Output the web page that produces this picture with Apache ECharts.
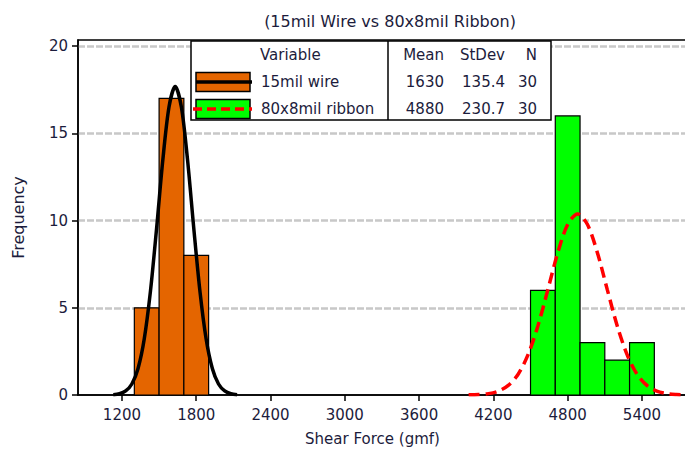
<!DOCTYPE html>
<html>
<head>
<meta charset="utf-8">
<script src="https://cdn.jsdelivr.net/npm/echarts@6/dist/echarts.min.js"></script>
<style>
  html, body { margin: 0; padding: 0; background: #fff; }
  #chartmain { width: 685px; height: 455px; }
</style>
</head>
<body>
<div id="chartmain"></div>
<script>
// histogram bins (centres) and counts
var binWidth = 200;
var wireBins = [1400, 1600, 1800];
var wireCounts = [5, 17, 8];
var ribbonBins = [4600, 4800, 5000, 5200, 5400];
var ribbonCounts = [6, 16, 3, 2, 3];

// fitted normal curves
var wireFitX = [1130, 1180, 1230, 1280, 1330, 1380, 1430, 1480, 1530, 1580, 1630,
                1680, 1730, 1780, 1830, 1880, 1930, 1980, 2030, 2080, 2130];
var wireFitY = [0.02, 0.07, 0.23, 0.63, 1.52, 3.21, 5.94, 9.57, 13.46, 16.51, 17.68,
                16.51, 13.46, 9.57, 5.94, 3.21, 1.52, 0.63, 0.23, 0.07, 0.02];
var ribbonFitX = [4000, 4080, 4160, 4240, 4320, 4400, 4480, 4560, 4640, 4720, 4800, 4880,
                  4960, 5040, 5120, 5200, 5280, 5360, 5440, 5520, 5600, 5680, 5760];
var ribbonFitY = [0.01, 0.03, 0.08, 0.22, 0.55, 1.19, 2.31, 3.97, 6.04, 8.16, 9.77, 10.38,
                  9.77, 8.16, 6.04, 3.97, 2.31, 1.19, 0.55, 0.22, 0.08, 0.03, 0.01];

var xTicks = [1200, 1800, 2400, 3000, 3600, 4200, 4800, 5400];
var variables = ['15mil wire', '80x8mil ribbon'];
var means = ['1630', '4880'];
var stdevs = ['135.4', '230.7'];
var counts = ['30', '30'];

var FONT = 'DejaVu Sans';
var TXT = '#1c1c3c';
var ORANGE = '#e46500';
var GREEN = '#00ff00';

function pairs(xs, ys) {
    var out = [];
    for (var i = 0; i < xs.length; i++) out.push([xs[i], ys[i]]);
    return out;
}

function histItem(fill) {
    return function(params, api) {
        var x0 = api.value(0) - binWidth / 2;
        var p0 = api.coord([x0, api.value(1)]);
        var p1 = api.coord([x0 + binWidth, 0]);
        return {
            type: 'rect',
            shape: { x: p0[0], y: p0[1], width: p1[0] - p0[0], height: p1[1] - p0[1] },
            style: { fill: fill, stroke: '#000', lineWidth: 1.2 }
        };
    };
}

// legend table drawn as graphics
function legendTable() {
    var g = [];
    var L = 191, R = 551, T = 41, B = 120, D = 388;
    var rows = [82, 109];
    g.push({ type: 'rect', shape: { x: L, y: T, width: R - L, height: B - T },
             style: { fill: '#fff', stroke: '#000', lineWidth: 1.5 }, z: 100 });
    g.push({ type: 'line', shape: { x1: D, y1: T, x2: D, y2: B },
             style: { stroke: '#000', lineWidth: 1.5 }, z: 101 });
    var tx = function(s, x, y, align) {
        return { type: 'text', x: x, y: y, z: 102,
                 style: { text: s, font: '15px "' + FONT + '"', fill: TXT,
                          align: align || 'left', verticalAlign: 'middle' } };
    };
    g.push(tx('Variable', 260, 55));
    g.push(tx('Mean', 444, 55, 'right'));
    g.push(tx('StDev', 505, 55, 'right'));
    g.push(tx('N', 537, 55, 'right'));
    for (var i = 0; i < 2; i++) {
        var cy = rows[i];
        g.push({ type: 'rect', shape: { x: 196, y: cy - 9.5, width: 54, height: 19 }, z: 102,
                 style: { fill: i === 0 ? ORANGE : GREEN, stroke: '#000', lineWidth: 1.5 } });
        g.push({ type: 'line', z: 103,
                 shape: { x1: i === 0 ? 196 : 193, y1: cy, x2: 252, y2: cy },
                 style: { stroke: i === 0 ? '#000' : '#ff0000', lineWidth: 3.5,
                          lineDash: i === 0 ? null : [9, 5] } });
        g.push(tx(variables[i], 261, cy));
        g.push(tx(means[i], 444, cy, 'right'));
        g.push(tx(stdevs[i], 505, cy, 'right'));
        g.push(tx(counts[i], 537, cy, 'right'));
    }
    return g;
}

var option = {
    animation: false,
    backgroundColor: '#fff',
    title: {
        text: '(15mil Wire vs 80x8mil Ribbon)',
        left: 385, top: 8, textAlign: 'center',
        textStyle: { fontFamily: FONT, fontSize: 16, fontWeight: 'normal', color: TXT }
    },
    grid: {
        left: 78, right: -4, top: 40, bottom: 60,
        outerBoundsMode: 'none',
        show: true, borderColor: '#000', borderWidth: 1.5
    },
    xAxis: {
        type: 'value', min: 845, max: 5780,
        name: 'Shear Force (gmf)', nameLocation: 'middle', nameGap: 36,
        nameTextStyle: { fontFamily: FONT, fontSize: 15, color: TXT, padding: [0, 22, 0, 0] },
        axisLine: { lineStyle: { color: '#000', width: 1.5 } },
        axisTick: { show: true, length: 6, lineStyle: { color: '#000', width: 1.5 }, customValues: xTicks },
        axisLabel: { customValues: xTicks, margin: 12, fontFamily: FONT, fontSize: 15, color: TXT,
                     formatter: function(v) { return String(v); } },
        splitLine: { show: false }
    },
    yAxis: {
        type: 'value', min: 0, max: 20.35, interval: 5,
        name: 'Frequency', nameLocation: 'middle', nameGap: 52,
        nameTextStyle: { fontFamily: FONT, fontSize: 16, color: TXT },
        axisLine: { show: true, lineStyle: { color: '#000', width: 1.5 } },
        axisTick: { show: true, length: 6, lineStyle: { color: '#000', width: 1.5 } },
        axisLabel: { margin: 10, fontFamily: FONT, fontSize: 15, color: TXT, showMaxLabel: false },
        splitLine: { show: true, showMinLine: false, showMaxLine: false,
                     lineStyle: { color: '#c8c8c8', width: 2.5, type: [7, 2] } }
    },
    series: [
        { type: 'custom', renderItem: histItem(ORANGE), data: pairs(wireBins, wireCounts), z: 2 },
        { type: 'custom', renderItem: histItem(GREEN), data: pairs(ribbonBins, ribbonCounts), z: 2 },
        { type: 'line', data: pairs(wireFitX, wireFitY), smooth: 0.3, symbol: 'none', z: 5,
          lineStyle: { color: '#000', width: 3.5 } },
        { type: 'line', data: pairs(ribbonFitX, ribbonFitY), smooth: 0.3, symbol: 'none', z: 5,
          lineStyle: { color: '#ff0000', width: 3.5, type: [11, 6] } }
    ],
    graphic: legendTable()
};

var myChart = echarts.init(document.getElementById('chartmain'), null, { renderer: 'svg' });
myChart.setOption(option);
</script>
</body>
</html>
